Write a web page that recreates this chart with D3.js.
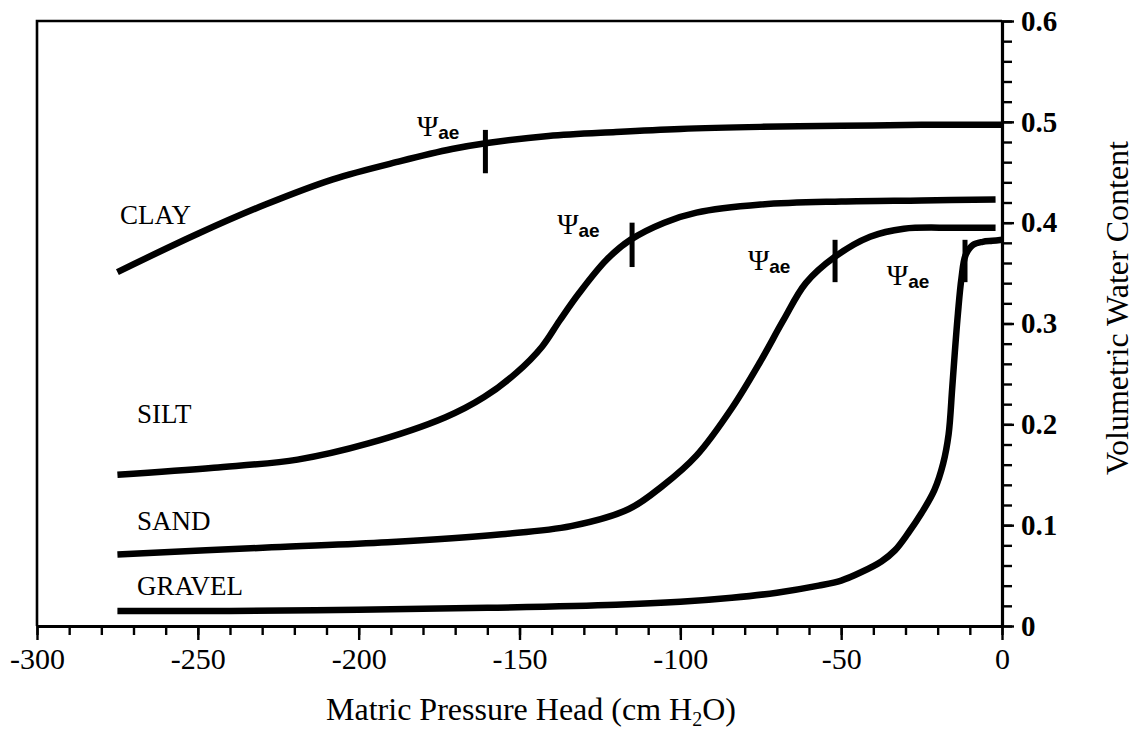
<!DOCTYPE html>
<html>
<head>
<meta charset="utf-8">
<script src="https://cdn.jsdelivr.net/npm/d3@7"></script>
<style>
  html, body { margin: 0; padding: 0; background: #fff; }
  svg { display: block; }
  text { font-family: "Liberation Serif", "Tinos", "Times New Roman", "DejaVu Serif", serif; fill: #000; }
</style>
</head>
<body>
<svg id="chart" width="1144" height="732"></svg>
<script>
// Soil-water characteristic curves: matric head (cm H2O) vs volumetric water content
const clay = [[-275,0.351],[-250,0.389],[-229,0.418],[-208,0.443],[-187,0.461],[-171,0.473],
  [-160,0.479],[-141,0.486],[-120,0.490],[-100,0.493],[-75,0.495],[-50,0.496],[-25,0.497],[0,0.497]];
const silt = [[-275,0.150],[-245,0.157],[-219,0.165],[-197,0.181],[-173,0.207],[-161,0.227],
  [-151,0.251],[-143,0.277],[-137.5,0.303],[-131.5,0.330],[-123,0.363],[-115.5,0.383],
  [-105,0.400],[-95,0.410],[-75,0.418],[-50,0.421],[-25,0.422],[-2,0.423]];
const sand = [[-275,0.071],[-227,0.078],[-191,0.083],[-155.5,0.091],[-134,0.099],[-116,0.116],
  [-105.5,0.139],[-95,0.169],[-84,0.216],[-75,0.263],[-68,0.303],[-61,0.340],[-52,0.366],
  [-41,0.386],[-30.5,0.394],[-15,0.395],[-2,0.395]];
const gravel = [[-275,0.015],[-240,0.015],[-200,0.016],[-160,0.018],[-120,0.021],[-100,0.024],
  [-84,0.028],[-70,0.033],[-57,0.040],[-50,0.045],[-44,0.053],[-37.5,0.064],[-33.3,0.075],
  [-29.2,0.092],[-25,0.112],[-21,0.135],[-18.3,0.161],[-16.6,0.190],[-15.5,0.235],[-14.7,0.270],
  [-13.7,0.310],[-12.6,0.345],[-11.3,0.368],[-9,0.378],[-6,0.381],[-3,0.382],[0,0.383]];

// Air-entry pressure markers: head, top and bottom of the tick (water content)
const aeHead = [-160.6, -115, -51.9, -11.5];
const aeTop = [0.492, 0.400, 0.383, 0.383];
const aeBottom = [0.449, 0.356, 0.341, 0.341];
// Psi_ae annotation anchors (head, water content)
const aeLabelHead = [-181.9, -138.3, -79, -35.8];
const aeLabelTheta = [0.486, 0.389, 0.353, 0.338];

// Soil names and their anchors
const soilNames = ["CLAY", "SILT", "SAND", "GRAVEL"];
const soilLabelHead = [-274.2, -268.9, -268.9, -268.9];
const soilLabelTheta = [0.399, 0.201, 0.095, 0.031];

// Axis ticks
const xMajor = [-300, -250, -200, -150, -100, -50, 0];
const xMinor = d3.range(-300, 1, 10);
const yMajor = [0, 0.1, 0.2, 0.3, 0.4, 0.5, 0.6];
const yMinor = d3.range(0, 0.6001, 0.02);

const svg = d3.select("#chart");
const x = d3.scaleLinear().domain([-300, 0]).range([37, 1002]);
const y = d3.scaleLinear().domain([0, 0.6]).range([626, 21]);

// frame: top and left edges
svg.append("path")
  .attr("d", `M${x(0)},${y(0.6)}H${x(-300)}V${y(0)}`)
  .attr("fill", "none").attr("stroke", "#000").attr("stroke-width", 2.6);

// bottom axis
const gx = svg.append("g").attr("transform", `translate(0,${y(0)})`);
gx.append("g").call(d3.axisBottom(x).tickValues(xMinor).tickSize(9).tickFormat(""))
  .call(g => g.select(".domain").remove());
gx.append("g").call(d3.axisBottom(x).tickValues(xMajor).tickSize(14).tickSizeOuter(0)
    .tickPadding(8).tickFormat(d => String(d)))
  .call(g => g.attr("font-family", null));
gx.selectAll("text").attr("font-size", 30);
gx.selectAll("line").attr("stroke", "#000").attr("stroke-width", 2.4);
gx.selectAll(".domain").attr("stroke", "#000").attr("stroke-width", 3.2);

// right axis
const gy = svg.append("g").attr("transform", `translate(${x(0)},0)`);
gy.append("g").call(d3.axisRight(y).tickValues(yMinor).tickSize(10).tickFormat(""))
  .call(g => g.select(".domain").remove());
gy.append("g").call(d3.axisRight(y).tickValues(yMajor).tickSize(12).tickSizeOuter(0)
    .tickPadding(7).tickFormat(d => d === 0 ? "0" : d.toFixed(1)))
  .call(g => g.attr("font-family", null));
gy.selectAll("text").attr("font-size", 29).attr("font-weight", "bold");
gy.selectAll(".tick line").attr("stroke", "#000").attr("stroke-width", 2.4);
gy.selectAll(".domain").attr("stroke", "#000").attr("stroke-width", 3.2);

// curves
const line = d3.line().x(d => x(d[0])).y(d => y(d[1])).curve(d3.curveCatmullRom.alpha(0.5));
svg.append("g").selectAll("path")
  .data([clay, silt, sand, gravel])
  .join("path")
  .attr("d", line)
  .attr("fill", "none").attr("stroke", "#000")
  .attr("stroke-width", 6.5).attr("stroke-linejoin", "round");

// air-entry markers
svg.append("g").selectAll("line")
  .data(aeHead)
  .join("line")
  .attr("x1", d => x(d)).attr("x2", d => x(d))
  .attr("y1", (d, i) => y(aeTop[i])).attr("y2", (d, i) => y(aeBottom[i]))
  .attr("stroke", "#000").attr("stroke-width", 5);

// Psi_ae labels
const psi = svg.append("g").selectAll("text")
  .data(aeLabelHead)
  .join("text")
  .attr("x", d => x(d)).attr("y", (d, i) => y(aeLabelTheta[i]));
psi.append("tspan").attr("font-size", 29).text("Ψ");
psi.append("tspan").attr("font-size", 19).attr("font-weight", "bold")
  .style("font-family", "'Liberation Sans', Arimo, Arial, sans-serif").attr("dy", 3).text("ae");

// soil names
svg.append("g").selectAll("text")
  .data(soilNames)
  .join("text")
  .attr("x", (d, i) => x(soilLabelHead[i])).attr("y", (d, i) => y(soilLabelTheta[i]))
  .attr("font-size", 27)
  .text(d => d);

// axis titles
const xt = svg.append("text").attr("x", 531).attr("y", 720)
  .attr("text-anchor", "middle").attr("font-size", 32);
xt.append("tspan").text("Matric Pressure Head (cm H");
xt.append("tspan").attr("font-size", 20).attr("dy", 6).text("2");
xt.append("tspan").attr("dy", -6).text("O)");

svg.append("text")
  .attr("transform", "translate(1128,308) rotate(-90)")
  .attr("text-anchor", "middle").attr("font-size", 32)
  .text("Volumetric Water Content");
</script>
</body>
</html>
